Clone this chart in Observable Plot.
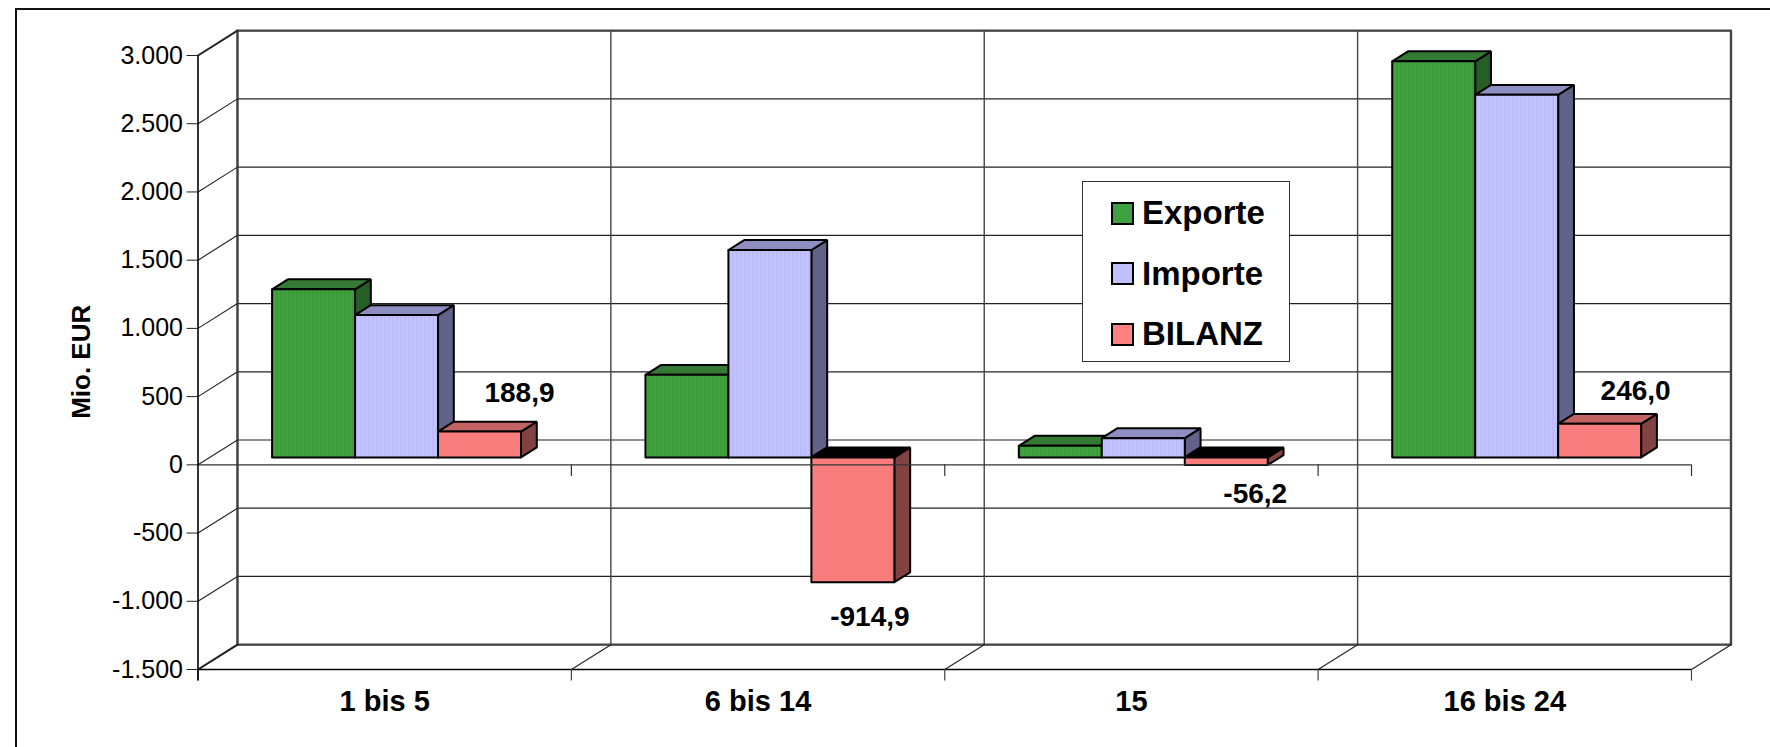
<!DOCTYPE html>
<html><head><meta charset="utf-8">
<script src="https://cdn.jsdelivr.net/npm/d3@7"></script>
<script src="https://cdn.jsdelivr.net/npm/@observablehq/plot@0.6"></script>
<style>
html,body{margin:0;padding:0;background:#fff;overflow:hidden}
#wrap{position:relative;width:1770px;height:747px;font-family:"Liberation Sans",Arial,sans-serif}
#wrap>svg{display:block;position:absolute;left:0;top:0}
#frame{position:absolute;left:15px;top:8px;right:-2px;bottom:-2px;border-left:2px solid #111;border-top:2px solid #111}
#legend{position:absolute;left:1082px;top:181px;width:208px;height:181px;background:#fff;border:1.3px solid #333;box-sizing:border-box}
.row{position:absolute;left:28px;display:flex;align-items:center;font-weight:bold;font-size:33px;color:#000;line-height:36px;height:36px}
.sw{display:inline-block;width:23px;height:23px;border:2px solid #000;margin-right:8px;box-sizing:border-box}
</style></head><body>
<div id="wrap"><div id="frame"></div></div>
<script>
const categories = ["1 bis 5", "6 bis 14", "15", "16 bis 24"];
const exporte = [1232, 605, 85, 2903];
const importe = [1043, 1520, 141, 2657];
const bilanz = [188.9, -914.9, -56.2, 246.0];
const bilanzLabels = ["188,9", "-914,9", "-56,2", "246,0"];
const yTicks = [-1500, -1000, -500, 0, 500, 1000, 1500, 2000, 2500, 3000];
const xEdges = [0, 1, 2, 3, 4];
const seriesNames = ["Exporte", "Importe", "BILANZ"];
const seriesValues = [exporte, importe, bilanz];
const frontColors = ["#3fa03f", "#c0c0ff", "#ff8080"];
const frontFills = ["url(#pExport)", "url(#pImport)", "url(#pBilanz)"];
const topColors = ["#347a34", "#8e8ec2", "#c26262"];
const sideColors = ["#265f26", "#626288", "#824242"];
const labelOffsets = [[40, -39], [17, 35], [29, 29], [36, -33]];

// oblique depth: z = 0 is the front plane, z = 1 the back wall
const depthX = 39.5 / 373.5, depthY = 182;
const P = (x, v, z) => ({x: x + z * depthX, y: v + z * depthY});
const barWidth = 1 / 4.5, gap = 0.75 * barWidth, z0 = 0.3, z1 = 0.7;
const lineColor = "#222";

const poly = (pts, fill) => Plot.line([...pts, pts[0]], {x: "x", y: "y", fill, stroke: "#000", strokeWidth: 2, strokeLinejoin: "miter", curve: "linear"});

const barMarks = [];
categories.forEach((_, c) => {
  seriesValues.forEach((vals, s) => {
    const xa = c + gap + s * barWidth, xb = xa + barWidth, v = vals[c];
    const hi = Math.max(v, 0), lo = Math.min(v, 0);
    barMarks.push(poly([P(xb, lo, z0), P(xb, hi, z0), P(xb, hi, z1), P(xb, lo, z1)], sideColors[s]));
    barMarks.push(poly([P(xa, hi, z0), P(xb, hi, z0), P(xb, hi, z1), P(xa, hi, z1)], v < 0 ? "#000" : topColors[s]));
    barMarks.push(poly([P(xa, lo, z0), P(xb, lo, z0), P(xb, hi, z0), P(xa, hi, z0)], frontFills[s]));
  });
});

const chart = Plot.plot({
  width: 1770, height: 747,
  marginLeft: 197.5, marginRight: 79, marginTop: 55, marginBottom: 78,
  style: {background: "transparent", fontFamily: '"Liberation Sans",Arial,sans-serif', color: "#000", overflow: "visible"},
  x: {domain: [0, 4]},
  y: {domain: [-1500, 3000]},
  marks: [
    Plot.ruleY(yTicks, {x1: P(0, 0, 1).x, x2: P(4, 0, 1).x, y: d => d + depthY, stroke: lineColor, strokeWidth: 1.2}),
    Plot.ruleX(xEdges, {x: d => P(d, 0, 1).x, y1: P(0, -1500, 1).y, y2: P(0, 3000, 1).y, stroke: "#444", strokeWidth: 1.4}),
    Plot.line([P(0, -1500, 1), P(0, 3000, 1), P(4, 3000, 1), P(4, -1500, 1), P(0, -1500, 1)], {x: "x", y: "y", stroke: "#444", strokeWidth: 2.4}),
    ...yTicks.map(t => Plot.line([P(0, t, 0), P(0, t, 1)], {x: "x", y: "y", stroke: lineColor, strokeWidth: t === 3000 || t === -1500 ? 2 : 1.1})),
    ...xEdges.map(e => Plot.line([P(e, -1500, 0), P(e, -1500, 1)], {x: "x", y: "y", stroke: lineColor, strokeWidth: 1.1})),
    Plot.ruleY([-1500], {stroke: "#000", strokeWidth: 1.4}),
    ...barMarks,
    Plot.ruleY([0], {stroke: "#333", strokeWidth: 1.4}),
    Plot.ruleX(xEdges.slice(1), {y1: 0, y2: -85, stroke: "#333", strokeWidth: 1.2}),
    Plot.ruleX(xEdges, {y1: -1500, y2: -1585, stroke: "#444", strokeWidth: 1.2}),
    Plot.ruleX([0], {y1: -1585, y2: 3000, stroke: "#000", strokeWidth: 1.6}),
    ...categories.map((_, c) => {
      const p = P(c + gap + 2.5 * barWidth, bilanz[c], z0);
      return Plot.text([bilanzLabels[c]], {x: p.x, y: p.y, text: d => d, dx: labelOffsets[c][0], dy: labelOffsets[c][1], fontSize: 28, fontWeight: "bold", fill: "#000"});
    }),
    Plot.axisY({ticks: yTicks, tickFormat: d => d.toLocaleString("de-DE"), tickSize: 11, tickPadding: 4, fontSize: 25, label: null, stroke: "#222"}),
    Plot.axisX({ticks: xEdges.slice(0, 4).map(d => d + 0.5), tickFormat: d => categories[Math.floor(d)], tickSize: 0, tickPadding: 21, fontSize: 29, fontWeight: "bold", label: null}),
    Plot.text(["Mio. EUR"], {frameAnchor: "left", textAnchor: "middle", y: 755, dx: -116.5, rotate: -90, text: d => d, fontSize: 26, fontWeight: "bold", fill: "#000"})
  ]
});
// fine dither of the original bar fills
const defs = document.createElementNS("http://www.w3.org/2000/svg", "defs");
defs.innerHTML = `
<pattern id="pExport" width="4" height="4" patternUnits="userSpaceOnUse"><rect width="4" height="4" fill="#40a340"/><rect width="1" height="4" fill="#359235"/></pattern>
<pattern id="pImport" width="4" height="4" patternUnits="userSpaceOnUse"><rect width="4" height="4" fill="#c3c3ff"/><rect width="1" height="4" fill="#b4b4f6"/></pattern>
<pattern id="pBilanz" width="4" height="4" patternUnits="userSpaceOnUse"><rect width="4" height="4" fill="#ff8686"/><rect width="2" height="2" fill="#f47474"/><rect x="2" y="2" width="2" height="2" fill="#f47474"/></pattern>`;
chart.insertBefore(defs, chart.firstChild);
const wrap = document.getElementById("wrap");
wrap.appendChild(chart);
const legend = document.createElement("div");
legend.id = "legend";
seriesNames.forEach((n, i) => {
  const r = document.createElement("div");
  r.className = "row";
  r.style.top = (13 + i * 60.7) + "px";
  const sw = document.createElement("span");
  sw.className = "sw";
  sw.style.background = frontColors[i];
  r.appendChild(sw);
  r.appendChild(document.createTextNode(n));
  legend.appendChild(r);
});
wrap.appendChild(legend);
</script>
</body></html>
